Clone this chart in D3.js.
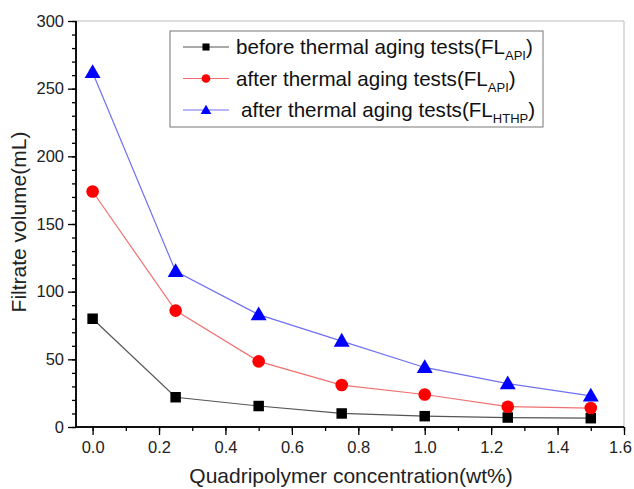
<!DOCTYPE html>
<html><head><meta charset="utf-8">
<script src="https://cdn.jsdelivr.net/npm/d3@7"></script>
<style>body{margin:0;background:#fff;font-family:"Liberation Sans",Arial,sans-serif;}</style>
</head><body><svg id="c" width="634" height="489"></svg>
<script>
const concentration = [0, 0.25, 0.5, 0.75, 1.0, 1.25, 1.5];
const beforeAPI = [80, 22, 15.5, 10, 8, 7, 6.5];
const afterAPI = [174, 86, 48.5, 31, 24, 15, 14];
const afterHTHP = [262, 115, 83, 63.5, 44, 32, 23];
const xTicks = [0, 0.2, 0.4, 0.6, 0.8, 1.0, 1.2, 1.4, 1.6];
const yTicks = [0, 50, 100, 150, 200, 250, 300];

const series = [
  {vals: beforeAPI, line: "#555", fill: "#000", shape: d3.symbolSquare, size: 110, lsize: 50, label: "before thermal aging tests(FL", sub: "API", lead: 0},
  {vals: afterAPI, line: "#f07070", fill: "#f00", shape: d3.symbolCircle, size: 125, lsize: 60, label: "after thermal aging tests(FL", sub: "API", lead: 0},
  {vals: afterHTHP, line: "#7070f0", fill: "#00f", shape: d3.symbolTriangle, size: 110, lsize: 50, label: "after thermal aging tests(FL", sub: "HTHP", lead: 5}
];

const svg = d3.select("#c");
const L = 76, R = 624, T = 21, B = 427;
const x = d3.scaleLinear().domain([-0.05, 1.6]).range([L, R]);
const y = d3.scaleLinear().domain([0, 300]).range([B, T]);

// frame
svg.append("line").attr("x1", L).attr("x2", R).attr("y1", T).attr("y2", T).attr("stroke", "#bbb");
svg.append("line").attr("x1", R).attr("x2", R).attr("y1", T).attr("y2", B).attr("stroke", "#bbb");

// ticks
const gx = svg.append("g").attr("transform", `translate(0,${B})`);
gx.call(d3.axisBottom(x).tickValues(d3.range(0, 17).map(i => i / 10)).tickSize(4).tickFormat(""));
const gx2 = svg.append("g").attr("transform", `translate(0,${B})`);
gx2.call(d3.axisBottom(x).tickValues(xTicks).tickSize(8).tickPadding(6).tickFormat(d3.format(".1f")));
[gx, gx2].forEach(g => { g.select(".domain").attr("d", `M${L},0H${R}`).attr("stroke", "#000").attr("stroke-width", 1.5); g.selectAll("line").attr("stroke", "#000").attr("stroke-width", 1.3); });
gx2.selectAll("text").attr("font-size", 16.5).attr("font-family", "Liberation Sans, Arial").attr("fill", "#222")
  .attr("dx", d => d === 1.6 ? -4 : 0);

const gy = svg.append("g").attr("transform", `translate(${L},0)`);
gy.call(d3.axisLeft(y).tickValues(d3.range(0, 301, 10)).tickSize(4).tickFormat(""));
const gy2 = svg.append("g").attr("transform", `translate(${L},0)`);
gy2.call(d3.axisLeft(y).tickValues(yTicks).tickSize(8).tickPadding(4));
[gy, gy2].forEach(g => { g.select(".domain").attr("d", `M0,${B}V${T}`).attr("stroke", "#000").attr("stroke-width", 1.5); g.selectAll("line").attr("stroke", "#000").attr("stroke-width", 1.3); });
gy2.selectAll("text").attr("font-size", 16.5).attr("font-family", "Liberation Sans, Arial").attr("fill", "#222");

// series
const line = d3.line().x((d, i) => x(concentration[i])).y(d => y(d));
series.forEach(s => {
  svg.append("path").attr("d", line(s.vals)).attr("fill", "none").attr("stroke", s.line).attr("stroke-width", 1.2);
  svg.selectAll(null).data(s.vals).enter().append("path")
    .attr("d", d3.symbol().type(s.shape).size(s.size))
    .attr("transform", (d, i) => `translate(${x(concentration[i])},${y(d) + (s.shape === d3.symbolTriangle ? 1 : 0)})`)
    .attr("fill", s.fill);
});

// legend
const lg = svg.append("g");
lg.append("rect").attr("x", 170).attr("y", 31).attr("width", 373).attr("height", 96).attr("fill", "#fff").attr("stroke", "#777").attr("stroke-width", 1);
series.forEach((s, i) => {
  const ry = 47 + i * 31.5;
  lg.append("line").attr("x1", 183).attr("x2", 229).attr("y1", ry).attr("y2", ry).attr("stroke", s.line).attr("stroke-width", 1.2);
  lg.append("path").attr("d", d3.symbol().type(s.shape).size(s.lsize)).attr("transform", `translate(206,${ry + (s.shape === d3.symbolTriangle ? 1 : 0)})`).attr("fill", s.fill);
  const t = lg.append("text").attr("x", 236 + s.lead).attr("y", ry + 7).attr("font-size", 20.6).attr("fill", "#111").attr("font-family", "Liberation Sans, Arial");
  t.append("tspan").text(s.label);
  t.append("tspan").attr("font-size", 13).attr("dy", 6).text(s.sub);
  t.append("tspan").attr("dy", -6).text(")");
});

// axis titles
svg.append("text").attr("x", 351).attr("y", 483).attr("text-anchor", "middle").attr("font-size", 21).attr("fill", "#222").text("Quadripolymer concentration(wt%)");
svg.append("text").attr("transform", "translate(26,222) rotate(-90)").attr("text-anchor", "middle").attr("font-size", 21).attr("fill", "#222").text("Filtrate volume(mL)");
</script></body></html>
